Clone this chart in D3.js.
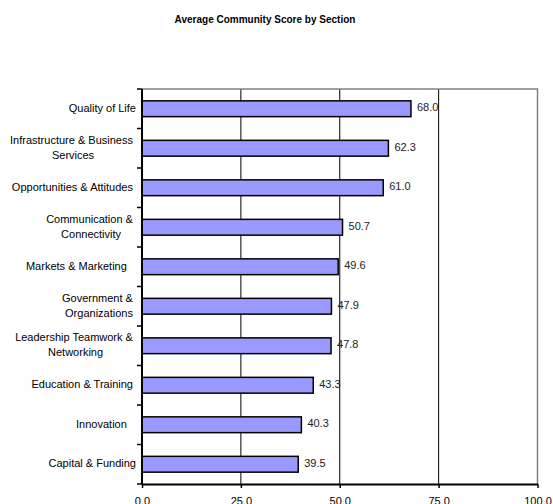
<!DOCTYPE html>
<html>
<head>
<meta charset="utf-8">
<script src="https://cdn.jsdelivr.net/npm/d3@7"></script>
<style>
  body { margin: 0; background: #fff; }
  svg { display: block; font-family: "Liberation Sans", Arial, sans-serif; }
  .pre { white-space: pre; }
</style>
</head>
<body>
<div class="chart"></div>
<script>
"use strict";

// Categories from top to bottom, "|" marks a line break (trailing spaces kept as in the source)
const categories = [
  "Quality of Life",
  "Infrastructure & Business |Services",
  "Opportunities & Attitudes ",
  "Communication & |Connectivity",
  "Markets & Marketing   ",
  "Government & |Organizations",
  "Leadership Teamwork & |Networking",
  "Education & Training ",
  "Innovation   ",
  "Capital & Funding"
];

const scores = [68.0, 62.3, 61.0, 50.7, 49.6, 47.9, 47.8, 43.3, 40.3, 39.5];

const xTicks = [0, 25, 50, 75, 100];

const title = "Average Community Score by Section";

const data = categories.map((c, i) => ({ key: i, label: c, value: scores[i] }));

// Dimensions
const width = 553;
const height = 504;
const plotLeft = 142;
const plotRight = 537.5;
const plotTop = 89;
const plotBottom = 484;

const svg = d3.select(".chart")
  .append("svg")
    .attr("width", width)
    .attr("height", height);

svg.append("text")
    .attr("x", 265)
    .attr("y", 22.5)
    .attr("text-anchor", "middle")
    .attr("font-size", 10)
    .attr("font-weight", "bold")
    .text(title);

// Scales
const xScale = d3.scaleLinear()
  .domain([0, 100])
  .range([plotLeft, plotRight]);

const yScale = d3.scaleBand()
  .domain(data.map(d => d.key))
  .range([plotTop, plotBottom])
  .paddingInner(0.6)
  .paddingOuter(0.3);

const step = yScale.step();

// Vertical gridlines
svg.append("g")
  .selectAll("line")
  .data(xTicks.slice(1, -1))
  .join("line")
    .attr("x1", d => xScale(d))
    .attr("x2", d => xScale(d))
    .attr("y1", plotTop)
    .attr("y2", plotBottom)
    .attr("stroke", "#000")
    .attr("stroke-width", 1);

// Plot border (top and right)
svg.append("path")
    .attr("d", `M${plotLeft},${plotTop}H${plotRight}V${plotBottom}`)
    .attr("fill", "none")
    .attr("stroke", "#808080")
    .attr("stroke-width", 1.5);

// Bars
svg.append("g")
  .selectAll("rect")
  .data(data)
  .join("rect")
    .attr("x", xScale(0))
    .attr("y", d => yScale(d.key))
    .attr("width", d => xScale(d.value) - xScale(0))
    .attr("height", yScale.bandwidth())
    .attr("fill", "#9999ff")
    .attr("stroke", "#000")
    .attr("stroke-width", 1.5);

// Value labels
svg.append("g")
  .selectAll("text")
  .data(data)
  .join("text")
    .attr("x", d => xScale(d.value) + 6)
    .attr("y", d => yScale(d.key) + yScale.bandwidth() / 2 - 1.5)
    .attr("dy", "0.35em")
    .attr("font-size", 11)
    .attr("fill", "#222")
    .text(d => d3.format(".1f")(d.value));

// X axis
const xAxis = d3.axisBottom(xScale)
  .tickValues(xTicks)
  .tickSize(4)
  .tickSizeOuter(0)
  .tickFormat(d3.format(".1f"));

const gx = svg.append("g")
    .attr("transform", `translate(0, ${plotBottom})`)
    .call(xAxis);

gx.select(".domain").attr("stroke-width", 2);
gx.selectAll(".tick line").attr("stroke-width", 1.5);
gx.selectAll(".tick text")
    .attr("font-size", 11)
    .attr("font-family", "Liberation Sans, Arial, sans-serif")
    .attr("fill", "#000")
    .attr("y", 13)
    .attr("dy", "0.71em");

// Y axis line and ticks at category boundaries
svg.append("line")
    .attr("x1", plotLeft)
    .attr("x2", plotLeft)
    .attr("y1", plotTop)
    .attr("y2", plotBottom)
    .attr("stroke", "#000")
    .attr("stroke-width", 2);

const boundaries = d3.range(categories.length + 1).map(i => plotTop + i * step);

svg.append("g")
  .selectAll("line")
  .data(boundaries)
  .join("line")
    .attr("x1", plotLeft - 5)
    .attr("x2", plotLeft)
    .attr("y1", d => d)
    .attr("y2", d => d)
    .attr("stroke", "#000")
    .attr("stroke-width", 1.5);

// Category labels: block right-aligned, lines centred within block
const labelRight = 136;
const lineHeight = 15;

const labelGroups = svg.append("g")
  .selectAll("g")
  .data(data)
  .join("g");

labelGroups.each(function(d) {
  const g = d3.select(this);
  const lines = d.label.split("|");
  const cy = yScale(d.key) + yScale.bandwidth() / 2;
  const texts = lines.map((line, i) =>
    g.append("text")
      .attr("class", "pre")
      .attr("font-size", 11)
      .attr("fill", "#000")
      .attr("text-anchor", "middle")
      .attr("y", cy + (i - (lines.length - 1) / 2) * lineHeight - 1)
      .attr("dy", "0.35em")
      .text(line)
  );
  const blockWidth = d3.max(texts, t => t.node().getComputedTextLength());
  texts.forEach(t => t.attr("x", labelRight - blockWidth / 2));
});
</script>
</body>
</html>
